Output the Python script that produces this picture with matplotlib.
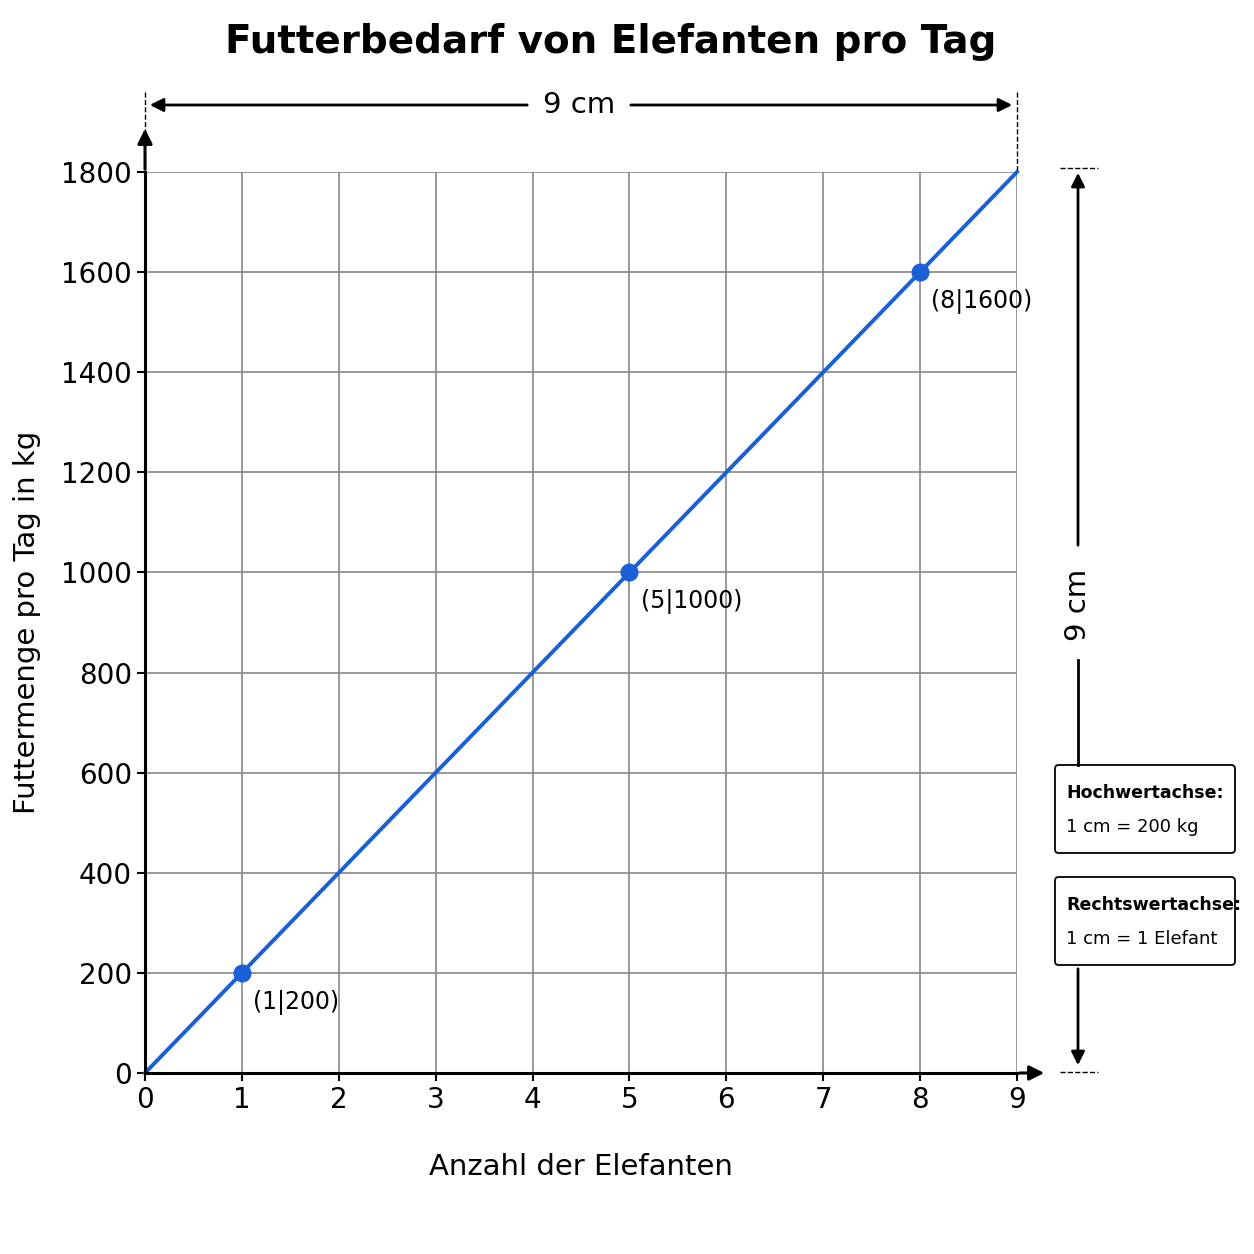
import matplotlib.pyplot as plt

elefanten = [0, 9]
futter = [0, 1800]
punkte_x = [1, 5, 8]
punkte_y = [200, 1000, 1600]
punkt_labels = ["(1|200)", "(5|1000)", "(8|1600)"]

W = 1254
plt.rcParams['font.family'] = ['DejaVu Sans']

fig = plt.figure(figsize=(12.54, 12.54), dpi=100)
ax = fig.add_axes([145 / W, 1 - 1073 / W, 872 / W, 901 / W])


def fx(px):
    return px / W


def fy(py):
    return 1 - py / W


ax.set_xlim(0, 9)
ax.set_ylim(0, 1800)
ax.set_xticks(range(10))
ax.set_yticks(range(0, 1801, 200))
ax.grid(color='#888888', lw=1.2)
for s in ['top', 'right']:
    ax.spines[s].set_visible(False)
for s in ['left', 'bottom']:
    ax.spines[s].set_linewidth(2.2)
ax.tick_params(labelsize=20, length=6, width=1.5)

ax.plot(elefanten, futter, color='#1a5fd6', lw=2.8, clip_on=False)
ax.plot(punkte_x, punkte_y, 'o', color='#1a5fd6', ms=12, zorder=5)
for x, y, t in zip(punkte_x, punkte_y, punkt_labels):
    ax.annotate(t, (x, y), xytext=(8, -12), textcoords='offset points',
                fontsize=17, va='top', ha='left')

ax.set_xlabel("Anzahl der Elefanten", fontsize=21, labelpad=28)
ax.set_ylabel("Futtermenge pro Tag in kg", fontsize=21, labelpad=14)

# axis arrows
fig.patches.append(plt.matplotlib.patches.FancyArrowPatch(
    (fx(1017), fy(1073)), (fx(1047), fy(1073)), transform=fig.transFigure,
    arrowstyle='-|>', mutation_scale=22, color='black', lw=2.2))
fig.patches.append(plt.matplotlib.patches.FancyArrowPatch(
    (fx(145), fy(172)), (fx(145), fy(126)), transform=fig.transFigure,
    arrowstyle='-|>', mutation_scale=22, color='black', lw=2.2))

fig.text(fx(611), fy(42), "Futterbedarf von Elefanten pro Tag", ha='center',
         va='center', fontsize=28, fontweight='bold')

# top dimension
for px in [145, 1017]:
    fig.add_artist(plt.Line2D([fx(px), fx(px)], [fy(92), fy(170)],
                              ls='--', color='black', lw=1))
for a, b in [(530, 147), (628, 1015)]:
    fig.patches.append(plt.matplotlib.patches.FancyArrowPatch(
        (fx(a), fy(105)), (fx(b), fy(105)), transform=fig.transFigure,
        arrowstyle='-|>', mutation_scale=20, color='black', lw=2))
fig.text(fx(579), fy(105), "9 cm", ha='center', va='center', fontsize=21)

# right dimension
for py in [168, 1072]:
    fig.add_artist(plt.Line2D([fx(1060), fx(1098)], [fy(py), fy(py)],
                              ls='--', color='black', lw=1))
fig.patches.append(plt.matplotlib.patches.FancyArrowPatch(
    (fx(1078), fy(548)), (fx(1078), fy(170)), transform=fig.transFigure,
    arrowstyle='-|>', mutation_scale=20, color='black', lw=2))
fig.add_artist(plt.Line2D([fx(1078), fx(1078)], [fy(660), fy(765)],
                          color='black', lw=2))
fig.patches.append(plt.matplotlib.patches.FancyArrowPatch(
    (fx(1078), fy(966)), (fx(1078), fy(1068)), transform=fig.transFigure,
    arrowstyle='-|>', mutation_scale=20, color='black', lw=2))
fig.text(fx(1078), fy(605), "9 cm", ha='center', va='center', fontsize=21,
         rotation=90)

boxes = [("Hochwertachse:", "1 cm = 200 kg", 765),
         ("Rechtswertachse:", "1 cm = 1 Elefant", 877)]
for head, body, top in boxes:
    fig.patches.append(plt.matplotlib.patches.FancyBboxPatch(
        (fx(1055), fy(top + 88)), 180 / W, 88 / W, transform=fig.transFigure,
        boxstyle='round,pad=0,rounding_size=0.003', fc='white', ec='black',
        lw=1.3))
    fig.text(fx(1066), fy(top + 28), head, fontsize=12.5, fontweight='bold',
             va='center')
    fig.text(fx(1066), fy(top + 62), body, fontsize=13, va='center')

fig.savefig("out.png", dpi=100)
